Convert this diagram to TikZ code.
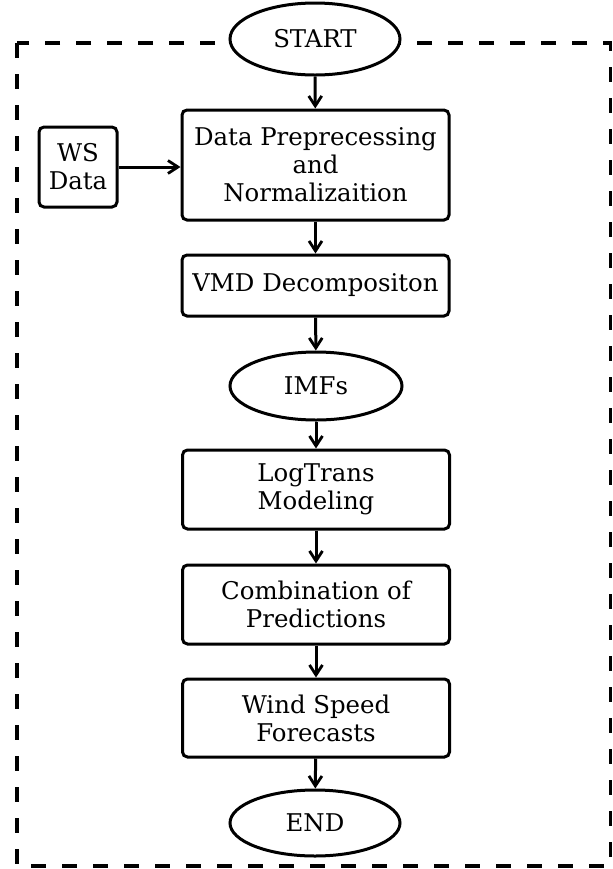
\documentclass[tikz,border=0pt]{standalone}
\usepackage{fontspec}
\setmainfont{DejaVu Serif}
\usetikzlibrary{shapes.geometric,arrows.meta}

\tikzset{
  block/.style={draw, line width=1.5pt, rounded corners=2.5pt, fill=white,
    align=center, inner sep=0pt, minimum width=133.5pt,
    font=\fontsize{12.2}{14}\selectfont},
  term/.style={draw, ellipse, line width=1.5pt, fill=white, inner sep=0pt,
    font=\fontsize{12.2}{14}\selectfont},
  flow/.style={-{Straight Barb[length=5pt,width=6.5pt,line width=1.4pt]}, line width=1.5pt},
  frame/.style={line width=1.9pt, dash pattern=on 7.5pt off 8pt}
}

\begin{document}
\begin{tikzpicture}[x=0.5pt, y=-0.5pt]
\useasboundingbox (0,0) rectangle (613,869);

% Cadre
\draw[frame] (17,43) rectangle (610.5,866);

% Debut et fin
\node[term, minimum width=85pt, minimum height=36pt] (start) at (315,39) {START};
\node[term, minimum width=85pt, minimum height=33pt] (end) at (315,823) {END};

% Etapes
\node[block, minimum height=55pt] (prep) at (315.5,165) {Data Preprecessing\\and\\Normalizaition};
\node[block, minimum width=39pt, minimum height=40pt] (ws) at (78,167) {WS\\Data};
\node[block, minimum height=30.5pt] (vmd) at (315.5,285.5) {VMD Decompositon};
\node[term, minimum width=86pt, minimum height=34pt] (imfs) at (316,386) {IMFs};
\node[block, minimum height=39.5pt] (logtrans) at (316,489.5) {LogTrans\\Modeling};
\node[block, minimum height=39.5pt] (comb) at (316,604.5) {Combination of\\Predictions};
\node[block, minimum height=39pt] (wind) at (316,718) {Wind Speed\\Forecasts};

% Fleches
\draw[flow] (start) -- (prep);
\draw[flow] (ws.east) -- (ws.east -| prep.west);
\draw[flow] (prep) -- (vmd);
\draw[flow] (vmd) -- (imfs);
\draw[flow] (imfs) -- (logtrans);
\draw[flow] (logtrans) -- (comb);
\draw[flow] (comb) -- (wind);
\draw[flow] (wind) -- (end);

\end{tikzpicture}
\end{document}
